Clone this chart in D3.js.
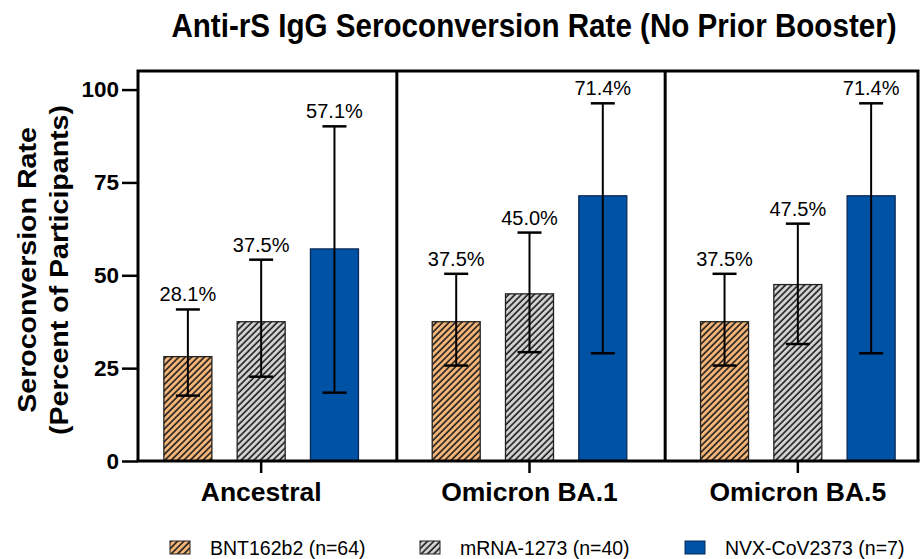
<!DOCTYPE html>
<html>
<head>
<meta charset="utf-8">
<script src="https://cdn.jsdelivr.net/npm/d3@7"></script>
<style>
  body { margin: 0; background: #fff; }
  text { font-family: "Liberation Sans", Arial, sans-serif; }
</style>
</head>
<body>
<div id="chart"></div>
<script>
// variants on the x axis, vaccines as series
const groups = ["Ancestral", "Omicron BA.1", "Omicron BA.5"];
const series = ["BNT162b2 (n=64)", "mRNA-1273 (n=40)", "NVX-CoV2373 (n=7)"];
const seriesKeys = ["bnt", "mrna", "nvx"];

// seroconversion rate (%) and 95% CI per series, in group order
const bntRate  = [28.1, 37.5, 37.5];
const bntLow   = [17.6, 25.7, 25.7];
const bntHigh  = [40.8, 50.4, 50.4];
const mrnaRate = [37.5, 45.0, 47.5];
const mrnaLow  = [22.7, 29.3, 31.5];
const mrnaHigh = [54.2, 61.5, 63.9];
const nvxRate  = [57.1, 71.4, 71.4];
const nvxLow   = [18.4, 29.0, 29.0];
const nvxHigh  = [90.1, 96.3, 96.3];

const yTicks = [0, 25, 50, 75, 100];

const width = 920, height = 559;

const fills = { bnt: "url(#hatchOrange)", mrna: "url(#hatchGrey)", nvx: "#0052a5" };

// flatten into rows for d3
const rates = [bntRate, mrnaRate, nvxRate],
      lows  = [bntLow, mrnaLow, nvxLow],
      highs = [bntHigh, mrnaHigh, nvxHigh];
var rows = [];
groups.forEach((g, gi) => {
  seriesKeys.forEach((k, si) => {
    rows.push({ group: g, key: k, value: rates[si][gi], lo: lows[si][gi], hi: highs[si][gi] });
  });
});

const svg = d3.select("#chart").append("svg")
  .attr("width", width)
  .attr("height", height);

// hatch patterns
const defs = svg.append("defs");
function hatch(id, bg) {
  const p = defs.append("pattern")
    .attr("id", id)
    .attr("patternUnits", "userSpaceOnUse")
    .attr("width", 4.5).attr("height", 10)
    .attr("patternTransform", "rotate(45)");
  p.append("rect").attr("width", 4.5).attr("height", 10).attr("fill", bg);
  p.append("line")
    .attr("x1", 1).attr("x2", 1).attr("y1", 0).attr("y2", 10)
    .attr("stroke", "#111").attr("stroke-width", 1.5);
}
hatch("hatchOrange", "#f4b67a");
hatch("hatchGrey", "#d2d2d2");

const frameL = 138, frameR = 918, frameT = 71, frameB = 461;

const x0 = d3.scaleBand().domain(groups).range([127, 932]);
const x1 = d3.scaleBand().domain(seriesKeys)
  .range([0, x0.bandwidth()])
  .paddingInner(0.345).paddingOuter(0.503);
const y = d3.scaleLinear().domain([0, 105]).range([frameB, frameT]);

// title (source figure is slightly stretched vertically)
svg.append("text")
  .attr("transform", "translate(534,37) scale(1,1.1)")
  .attr("text-anchor", "middle")
  .attr("font-size", 29.6).attr("font-weight", "bold")
  .text("Anti-rS IgG Seroconversion Rate (No Prior Booster)");

// y axis title
const yt = svg.append("text")
  .attr("transform", "translate(40.5,270) rotate(-90) scale(1.12,1)")
  .attr("text-anchor", "middle")
  .attr("font-size", 25.5).attr("font-weight", "bold");
yt.append("tspan").attr("x", 0).attr("dy", -5).text("Seroconversion Rate");
yt.append("tspan").attr("x", 0).attr("dy", 32.5).text("(Percent of Participants)");

// bars
const bars = svg.append("g").attr("class", "bars")
  .selectAll("rect")
  .data(rows)
  .join("rect")
    .attr("x", d => x0(d.group) + x1(d.key))
    .attr("width", x1.bandwidth())
    .attr("y", d => y(d.value))
    .attr("height", d => y(0) - y(d.value))
    .attr("fill", d => fills[d.key])
    .attr("stroke", d => d.key == "nvx" ? "#0a2a55" : "#222")
    .attr("stroke-width", 1.3);

// error bars
const err = svg.append("g").attr("class", "errors")
  .selectAll("g")
  .data(rows)
  .join("g")
    .attr("transform", d => `translate(${x0(d.group) + x1(d.key) + x1.bandwidth() / 2},0)`);
err.append("line")
  .attr("y1", d => y(d.lo)).attr("y2", d => y(d.hi))
  .attr("stroke", "#000").attr("stroke-width", 2);
err.append("line")
  .attr("x1", -12).attr("x2", 12)
  .attr("y1", d => y(d.hi)).attr("y2", d => y(d.hi))
  .attr("stroke", "#000").attr("stroke-width", 2.5);
err.append("line")
  .attr("x1", -12).attr("x2", 12)
  .attr("y1", d => y(d.lo)).attr("y2", d => y(d.lo))
  .attr("stroke", "#000").attr("stroke-width", 2.5);

// value labels above the caps
err.append("text")
  .attr("y", d => y(d.hi) - 8)
  .attr("text-anchor", "middle")
  .attr("font-size", 20)
  .text(d => d.value.toFixed(1) + "%");

// frame and panel dividers
const frame = svg.append("g").attr("stroke", "#000").attr("stroke-width", 3).attr("fill", "none");
frame.append("path")
  .attr("d", `M${frameL},${frameB}V${frameT}H${frameR}V${frameB}`);
groups.slice(1).forEach(g => {
  frame.append("line")
    .attr("x1", x0(g) + 1.5).attr("x2", x0(g) + 1.5)
    .attr("y1", frameT).attr("y2", frameB);
});

// y axis
const yAxis = svg.append("g")
  .attr("transform", `translate(${frameL},0)`)
  .call(d3.axisLeft(y).tickValues(yTicks).tickSize(16).tickPadding(3).tickSizeOuter(0));
yAxis.select(".domain").remove();
yAxis.selectAll(".tick line").attr("stroke-width", 2.5);
yAxis.selectAll(".tick text")
  .attr("font-size", 22.5).attr("font-weight", "bold")
  .attr("font-family", "Liberation Sans, Arial, sans-serif")
  .attr("fill", "#000");

// x axis
const xAxis = svg.append("g")
  .attr("transform", `translate(0,${frameB})`)
  .call(d3.axisBottom(x0).tickSize(12).tickPadding(9).tickSizeOuter(0));
xAxis.select(".domain").remove();
xAxis.selectAll(".tick line").attr("stroke-width", 2.5);
xAxis.selectAll(".tick text")
  .attr("font-size", 26.5).attr("font-weight", "bold")
  .attr("font-family", "Liberation Sans, Arial, sans-serif")
  .attr("fill", "#000");
svg.append("line")
  .attr("x1", frameL - 1.5).attr("x2", frameR + 1.5)
  .attr("y1", frameB).attr("y2", frameB)
  .attr("stroke", "#000").attr("stroke-width", 3);

// legend
const legendX = [170, 420, 685];
const legend = svg.append("g").attr("class", "legend")
  .selectAll("g")
  .data(seriesKeys)
  .join("g")
    .attr("transform", (d, i) => `translate(${legendX[i]},541)`);
legend.append("rect")
  .attr("width", 20).attr("height", 13)
  .attr("fill", d => fills[d])
  .attr("stroke", d => d == "nvx" ? "#0a2a55" : "#222")
  .attr("stroke-width", 1);
legend.append("text")
  .attr("x", 40).attr("y", 14)
  .attr("font-size", 19.5)
  .text((d, i) => series[i]);
</script>
</body>
</html>
